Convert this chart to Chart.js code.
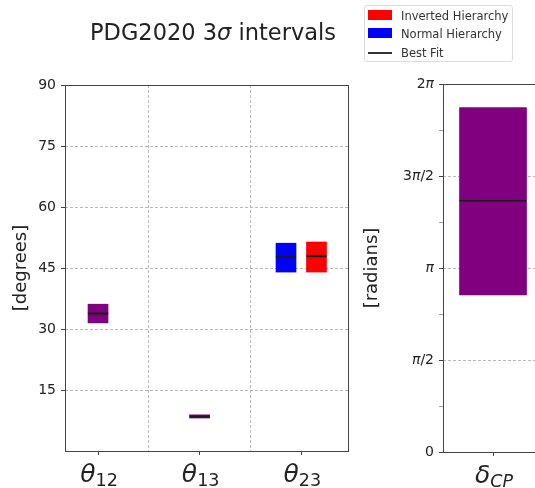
<!DOCTYPE html>
<html>
<head>
<meta charset="utf-8">
<script src="https://cdn.jsdelivr.net/npm/chart.js@4.4.1/dist/chart.umd.min.js"></script>
<style>
  html, body { margin: 0; padding: 0; background: #fff; }
  body { width: 535px; height: 488px; overflow: hidden; position: relative; font-family: "DejaVu Sans", sans-serif; }
  canvas { position: absolute; top: 0; }
  #left { left: 0; }
  #right { left: 360px; }
  #title { position: absolute; left: 0; width: 426px; top: 21px; text-align: center; font-size: 22.5px; line-height: 1; color: #222; white-space: nowrap; }
  #legend { position: absolute; left: 364px; top: 5px; width: 149px; height: 57px; box-sizing: border-box; border: 1px solid #ddd; border-radius: 3px; background: rgba(255,255,255,0.85); }
  .item { position: absolute; left: 3px; height: 12px; font-size: 11.5px; line-height: 12px; color: #333; white-space: nowrap; }
  .sw { position: absolute; left: 0; width: 24px; }
  .txt { position: absolute; left: 33px; top: 0; }
</style>
</head>
<body>
<canvas id="left" width="360" height="488"></canvas>
<canvas id="right" width="200" height="488"></canvas>
<div id="title">PDG2020 3<span style="font-style:italic">σ</span> intervals</div>
<div id="legend"></div>
<script>
// ---- data ----
const angleTickMain = ['θ', 'θ', 'θ'];
const angleTickSub = ['12', '13', '23'];
const angleTickPos = [0, 1, 2];
const degreeTicks = [15, 30, 45, 60, 75, 90];

// θ12, θ13 : same for both hierarchies (purple)
const sharedLow = [31.5, 8.1];
const sharedHigh = [36.1, 8.9];
const sharedBest = [33.8, 8.5];

// θ23 : [low, high, best]
const normalTheta23 = [44.0, 51.1, 47.8];
const invertedTheta23 = [44.0, 51.4, 47.9];

// δCP in radians : [low, high, best]
const deltaCP = [2.68, 5.88, 4.29];
const cpTickMain = ['δ'];
const cpTickSub = ['CP'];
const radianTickLabels = ['0', 'π/2', 'π', '3π/2', '2π'];

const legendLabels = ['Inverted Hierarchy', 'Normal Hierarchy', 'Best Fit'];

// ---- styling ----
const PURPLE = '#800080', BLUE = '#0000ff', RED = '#ff0000', BEST = '#1a1a1a';
const GRID = '#b8b8b8', AXIS = '#444', TXT = '#222';
const TRANSPARENT = 'rgba(0,0,0,0)';
const splitOffset = 0.15;     // θ23 NH/IH offset from category
const halfLeft = 0.1;         // half width of best-fit line (left panel, x units)
const halfRight = 0.335;      // half width of best-fit line (right panel, x units)

// legend (HTML)
const legendEl = document.getElementById('legend');
const legendSw = [
  'top:0px;height:10px;background:' + RED,
  'top:0px;height:10px;background:' + BLUE,
  'top:5px;height:2px;background:#333'
];
const legendTops = [4, 22, 41];
legendLabels.forEach((t, i) => {
  const d = document.createElement('div');
  d.className = 'item';
  d.style.top = legendTops[i] + 'px';
  d.innerHTML = '<div class="sw" style="' + legendSw[i] + '"></div><div class="txt">' + t + '</div>';
  legendEl.appendChild(d);
});

// plugins
const framePlugin = {
  id: 'frame',
  afterDraw(chart) {
    const a = chart.chartArea, ctx = chart.ctx;
    ctx.save();
    ctx.strokeStyle = AXIS;
    ctx.lineWidth = 1;
    ctx.strokeRect(Math.round(a.left) + 0.5, Math.round(a.top) + 0.5, Math.round(a.right - a.left) - 1, Math.round(a.bottom - a.top));
    ctx.restore();
  }
};
const mathTicksPlugin = {
  id: 'mathTicks',
  afterDraw(chart, args, opts) {
    const ctx = chart.ctx, xs = chart.scales.x, base = chart.chartArea.bottom + 31;
    ctx.save();
    ctx.fillStyle = TXT;
    ctx.textBaseline = 'alphabetic';
    ctx.textAlign = 'left';
    opts.pos.forEach((p, i) => {
      const mainFont = 'italic 25px "DejaVu Sans"';
      const subFont = (opts.subItalic ? 'italic ' : '') + '17.5px "DejaVu Sans"';
      ctx.font = mainFont;
      const wm = ctx.measureText(opts.main[i]).width;
      ctx.font = subFont;
      const ws = ctx.measureText(opts.sub[i]).width;
      const x0 = xs.getPixelForValue(p) - (wm + ws) / 2 + 1;
      ctx.font = mainFont;
      ctx.fillText(opts.main[i], x0, base);
      ctx.font = subFont;
      ctx.fillText(opts.sub[i], x0 + wm, base + 4);
    });
    // y tick labels with italic π (right panel)
    if (opts.piLabels) {
      const ys = chart.scales.y;
      const xr = chart.chartArea.left - 9;
      ys.ticks.forEach((t, i) => {
        if (i % 2) return;
        const label = opts.piLabels[i / 2];
        const parts = label.split(/(π)/).filter(s => s.length);
        const fonts = parts.map(s => (s === 'π' ? 'italic ' : '') + '14px "DejaVu Sans"');
        let total = 0;
        const widths = parts.map((s, k) => { ctx.font = fonts[k]; const w = ctx.measureText(s).width; total += w; return w; });
        let x = xr - total;
        const y = ys.getPixelForValue(t.value);
        ctx.textBaseline = 'middle';
        parts.forEach((s, k) => { ctx.font = fonts[k]; ctx.fillText(s, x, y); x += widths[k]; });
      });
    }
    ctx.restore();
  }
};

function bestLine(c, hw, b, w) {
  return { type: 'line', data: [{ x: c - hw, y: b }, { x: c + hw, y: b }], borderColor: BEST, borderWidth: w, pointRadius: 0, order: 0 };
}
const tickFont = { family: 'DejaVu Sans', size: 14 };

// ---- left chart ----
new Chart(document.getElementById('left'), {
  type: 'bar',
  data: {
    datasets: [
      { data: angleTickPos.slice(0, 2).map((p, i) => ({ x: p, y: [sharedLow[i], sharedHigh[i]] })), backgroundColor: PURPLE, barThickness: 20, grouped: false, order: 1 },
      { data: [{ x: angleTickPos[2] - splitOffset, y: [normalTheta23[0], normalTheta23[1]] }], backgroundColor: BLUE, barThickness: 20, grouped: false, order: 1 },
      { data: [{ x: angleTickPos[2] + splitOffset, y: [invertedTheta23[0], invertedTheta23[1]] }], backgroundColor: RED, barThickness: 20, grouped: false, order: 1 },
      bestLine(angleTickPos[0], halfLeft, sharedBest[0], 2),
      bestLine(angleTickPos[1], halfLeft, sharedBest[1], 2),
      bestLine(angleTickPos[2] - splitOffset, halfLeft, normalTheta23[2], 2),
      bestLine(angleTickPos[2] + splitOffset, halfLeft, invertedTheta23[2], 2)
    ]
  },
  options: {
    responsive: false, animation: false, devicePixelRatio: 1,
    layout: { padding: { top: 85, right: 11, left: 0, bottom: 0 } },
    plugins: { legend: { display: false }, tooltip: { enabled: false },
      mathTicks: { pos: angleTickPos, main: angleTickMain, sub: angleTickSub, subItalic: false } },
    scales: {
      x: {
        type: 'linear', min: -0.325, max: 2.47, offset: false,
        afterBuildTicks(s) { s.ticks = [0, 0.5, 1, 1.5, 2].map(v => ({ value: v })); },
        afterFit(s) { s.height = 37; },
        ticks: { display: false },
        grid: { offset: false, drawTicks: true, tickLength: 4,
          color: c => (c.tick && Number.isInteger(c.tick.value)) ? TRANSPARENT : GRID,
          tickColor: c => (c.tick && Number.isInteger(c.tick.value)) ? AXIS : TRANSPARENT },
        border: { display: false, dash: [3, 2] }
      },
      y: {
        type: 'linear', min: 0, max: 90,
        afterBuildTicks(s) { s.ticks = degreeTicks.map(v => ({ value: v })); },
        afterFit(s) { s.width = 65; },
        ticks: { font: tickFont, color: TXT, padding: 5, autoSkip: false },
        grid: { tickLength: 4, tickColor: AXIS, color: c => (c.tick && c.tick.value === 90) ? TRANSPARENT : GRID },
        border: { display: false, dash: [3, 2] },
        title: { display: true, text: '[degrees]', color: TXT, font: { family: 'DejaVu Sans', size: 18, lineHeight: 1.2 }, padding: { top: 11, bottom: 0 } }
      }
    }
  },
  plugins: [framePlugin, mathTicksPlugin]
});

// ---- right chart ----
const PI = Math.PI;
new Chart(document.getElementById('right'), {
  type: 'bar',
  data: {
    datasets: [
      { data: [{ x: 0, y: [deltaCP[0], deltaCP[1]] }], backgroundColor: PURPLE, barThickness: 67, grouped: false, order: 1 },
      bestLine(0, halfRight, deltaCP[2], 1.6)
    ]
  },
  options: {
    responsive: false, animation: false, devicePixelRatio: 1,
    layout: { padding: { top: 84, right: 17, left: 0, bottom: 0 } },
    plugins: { legend: { display: false }, tooltip: { enabled: false },
      mathTicks: { pos: [0], main: cpTickMain, sub: cpTickSub, subItalic: true, piLabels: radianTickLabels } },
    scales: {
      x: {
        type: 'linear', min: -0.5, max: 0.5, offset: false,
        afterBuildTicks(s) { s.ticks = [{ value: 0 }]; },
        afterFit(s) { s.height = 36; },
        ticks: { display: false },
        grid: { offset: false, tickLength: 4, color: TRANSPARENT, tickColor: AXIS },
        border: { display: false }
      },
      y: {
        type: 'linear', min: 0, max: 2 * PI,
        afterBuildTicks(s) { s.ticks = [0, 1, 2, 3, 4, 5, 6, 7, 8].map(k => ({ value: k * PI / 4 })); },
        afterFit(s) { s.width = 83; },
        ticks: { font: tickFont, color: TRANSPARENT, padding: 5, autoSkip: false,
          callback: (v, i) => (i % 2 === 0 ? radianTickLabels[i / 2] : '') },
        grid: { tickLength: 4,
          tickColor: c => (c.index % 2 === 0 ? AXIS : '#888'),
          tickWidth: c => (c.index % 2 === 0 ? 1 : 0.8),
          color: c => ([2, 4, 6].includes(c.index) ? GRID : TRANSPARENT) },
        border: { display: false, dash: [3, 2] },
        title: { display: true, text: '[radians]', color: TXT, font: { family: 'DejaVu Sans', size: 18, lineHeight: 1.2 }, padding: { top: 2, bottom: 0 } }
      }
    }
  },
  plugins: [framePlugin, mathTicksPlugin]
});
</script>
</body>
</html>
